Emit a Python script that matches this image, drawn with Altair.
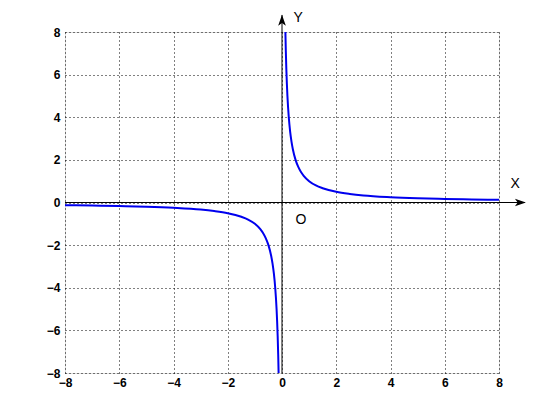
import altair as alt
import pandas as pd

# Curve y = 1/x (two branches)
x_pos = [0.125, 0.14, 0.16, 0.18, 0.2, 0.25, 0.3, 0.35, 0.4, 0.5, 0.6, 0.7, 0.8, 1.0, 1.25, 1.5, 2.0, 2.5, 3.0, 4.0, 5.0, 6.0, 7.0, 8.0]
y_pos = [8.0, 7.14, 6.25, 5.56, 5.0, 4.0, 3.33, 2.86, 2.5, 2.0, 1.67, 1.43, 1.25, 1.0, 0.8, 0.67, 0.5, 0.4, 0.33, 0.25, 0.2, 0.167, 0.143, 0.125]
x_neg = [-8.0, -7.0, -6.0, -5.0, -4.0, -3.0, -2.5, -2.0, -1.5, -1.25, -1.0, -0.8, -0.7, -0.6, -0.5, -0.4, -0.35, -0.3, -0.25, -0.2, -0.18, -0.16, -0.14, -0.125]
y_neg = [-0.125, -0.143, -0.167, -0.2, -0.25, -0.33, -0.4, -0.5, -0.67, -0.8, -1.0, -1.25, -1.43, -1.67, -2.0, -2.5, -2.86, -3.33, -4.0, -5.0, -5.56, -6.25, -7.14, -8.0]

ticks = [-8, -6, -4, -2, 0, 2, 4, 6, 8]

# axis lines (extend past the frame) and arrow heads
x_axis_line = {"x": -8, "x2": 8.95, "y": 0}
y_axis_line = {"y": -8, "y2": 8.8, "x": 0}
x_arrow = {"x": 8.79, "y": 0}
y_arrow = {"x": 0, "y": 8.55}
labels = [{"x": 8.6, "y": 0.85, "t": "X"}, {"x": 0.6, "y": 8.68, "t": "Y"}, {"x": 0.7, "y": -0.8, "t": "O"}]

curve = pd.DataFrame({
    "x": x_neg + x_pos,
    "y": y_neg + y_pos,
    "branch": ["neg"] * len(x_neg) + ["pos"] * len(x_pos),
})

xs = alt.Scale(domain=[-8, 8], nice=False, zero=False)
ys = alt.Scale(domain=[-8, 8], nice=False, zero=False)

xax = alt.Axis(values=ticks, title=None, grid=True, gridDash=[1, 3], gridColor="black",
               gridOpacity=1, ticks=False, domain=False, labelFont="Liberation Sans",
               labelFontWeight="bold", labelFontSize=12, labelColor="black", labelPadding=4,
               labelFlush=False)
yax = alt.Axis(values=ticks, title=None, grid=True, gridDash=[1, 3], gridColor="black",
               gridOpacity=1, ticks=False, domain=False, labelFont="Liberation Sans",
               labelFontWeight="bold", labelFontSize=12, labelColor="black", labelPadding=5,
               labelFlush=False)

base = alt.Chart(curve)

line = base.mark_line(color="#0000ee", strokeWidth=2, interpolate="monotone", clip=True).encode(
    x=alt.X("x:Q", scale=xs, axis=xax),
    y=alt.Y("y:Q", scale=ys, axis=yax),
    detail="branch:N",
)

hline = alt.Chart(pd.DataFrame([x_axis_line])).mark_rule(color="black", strokeWidth=1).encode(
    x=alt.X("x:Q", scale=xs), x2="x2:Q", y=alt.Y("y:Q", scale=ys))
vline = alt.Chart(pd.DataFrame([y_axis_line])).mark_rule(color="black", strokeWidth=1).encode(
    y=alt.Y("y:Q", scale=ys), y2="y2:Q", x=alt.X("x:Q", scale=xs))

xarr = alt.Chart(pd.DataFrame([x_arrow])).mark_point(
    shape="M 1 0 L -1 -0.7 L -0.5 0 L -1 0.7 Z", filled=True, color="black", size=121, opacity=1
).encode(x=alt.X("x:Q", scale=xs), y=alt.Y("y:Q", scale=ys))
yarr = alt.Chart(pd.DataFrame([y_arrow])).mark_point(
    shape="M 0 -1 L -0.7 1 L 0 0.5 L 0.7 1 Z", filled=True, color="black", size=121, opacity=1
).encode(x=alt.X("x:Q", scale=xs), y=alt.Y("y:Q", scale=ys))

txt = alt.Chart(pd.DataFrame(labels)).mark_text(
    font="Liberation Sans", fontSize=14, color="black", align="center", baseline="middle"
).encode(x=alt.X("x:Q", scale=xs), y=alt.Y("y:Q", scale=ys), text="t:N")

chart = alt.layer(line, hline, vline, xarr, yarr, txt).properties(
    width=434, height=341,
    autosize=alt.AutoSizeParams(type="none"),
    padding={"left": 57, "top": 24, "right": 52, "bottom": 39},
).configure_view(stroke="black", strokeWidth=1).configure(background="white")

chart.save("out.html", embed_options={"renderer": "svg", "actions": False})
